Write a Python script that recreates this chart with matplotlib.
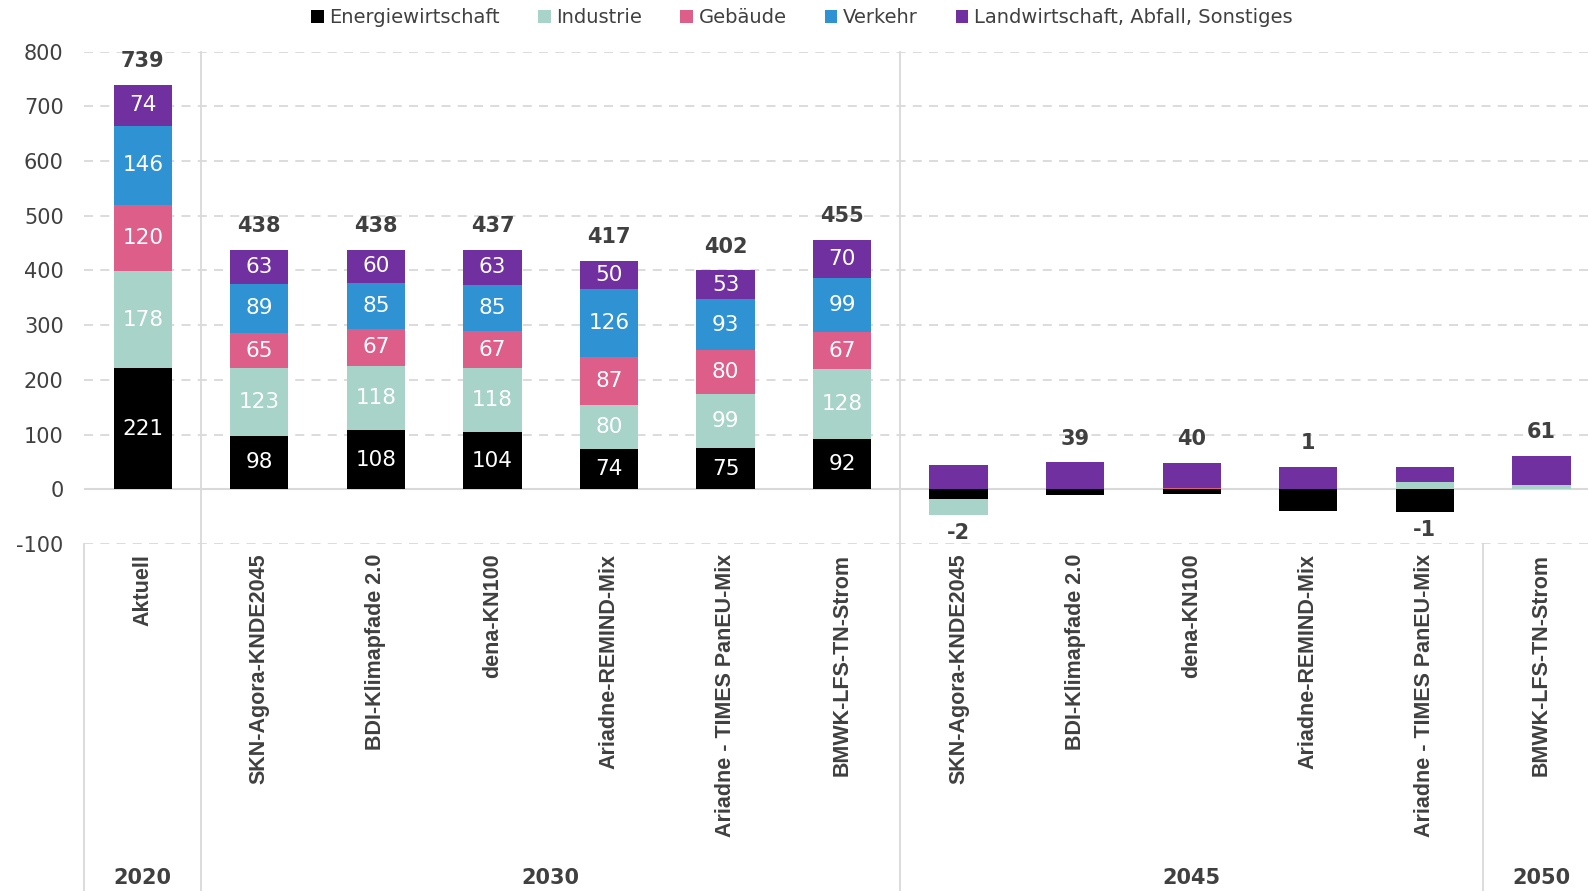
import numpy as np
import matplotlib.pyplot as plt
from matplotlib.patches import Patch
import matplotlib.transforms as mtransforms

# categories (13 bars) and group labels
scenarios = ['Aktuell',
             'SKN-Agora-KNDE2045', 'BDI-Klimapfade 2.0', 'dena-KN100',
             'Ariadne-REMIND-Mix', 'Ariadne - TIMES PanEU-Mix', 'BMWK-LFS-TN-Strom',
             'SKN-Agora-KNDE2045', 'BDI-Klimapfade 2.0', 'dena-KN100',
             'Ariadne-REMIND-Mix', 'Ariadne - TIMES PanEU-Mix',
             'BMWK-LFS-TN-Strom']
groups = ['2020', '2030', '2045', '2050']
group_sizes = [1, 6, 5, 1]

sectors = ['Energiewirtschaft', 'Industrie', 'Gebäude', 'Verkehr',
           'Landwirtschaft, Abfall, Sonstiges']
energie = [221, 98, 108, 104, 74, 75, 92, -18, -10, -8, -40, -41, 0]
industrie = [178, 123, 118, 118, 80, 99, 128, -29, 0, 1, 1, 14, 7]
gebaeude = [120, 65, 67, 67, 87, 80, 67, 0, 0, 1, 0, 0, 0]
verkehr = [146, 89, 85, 85, 126, 93, 99, 0, 0, 0, 0, 0, 0]
landwirtschaft = [74, 63, 60, 63, 50, 53, 70, 45, 49, 46, 40, 26, 54]
totals = [739, 438, 438, 437, 417, 402, 455, -2, 39, 40, 1, -1, 61]
n_labelled = 7  # segment values shown only for 2020 and 2030

colors = ['#000000', '#A8D3C9', '#DE5E8A', '#2E92D3', '#7030A0']
txt = '#404040'
num_font = 'DejaVu Sans'

fig = plt.figure(figsize=(15.88, 8.91), dpi=100)
ax = fig.add_axes([0.0532, 0.3895, 0.9468, 0.5525])

x = np.arange(len(scenarios))
series = [energie, industrie, gebaeude, verkehr, landwirtschaft]
pos_bottom = np.zeros(len(x))
neg_bottom = np.zeros(len(x))
for vals, col in zip(series, colors):
    v = np.array(vals, dtype=float)
    bottom = np.where(v >= 0, pos_bottom, neg_bottom)
    ax.bar(x, v, 0.5, bottom=bottom, color=col, edgecolor='none', zorder=3)
    for i in range(n_labelled):
        if v[i] != 0:
            ax.text(x[i], bottom[i] + v[i] / 2, f'{int(v[i])}', ha='center', va='center',
                    color='white', fontsize=15.5, family=num_font, zorder=4)
    pos_bottom = np.where(v >= 0, pos_bottom + v, pos_bottom)
    neg_bottom = np.where(v < 0, neg_bottom + v, neg_bottom)

# totals above / below stacks
for i, t in enumerate(totals):
    if t >= 0:
        ax.annotate(f'{t}', (x[i], pos_bottom[i]), xytext=(0, 10), textcoords='offset points',
                    ha='center', va='bottom', fontsize=15, fontweight='bold', color=txt,
                    family=num_font)
    else:
        ax.annotate(f'{t}', (x[i], neg_bottom[i]), xytext=(0, -6), textcoords='offset points',
                    ha='center', va='top', fontsize=15, fontweight='bold', color=txt,
                    family=num_font)

ax.set_xlim(-0.5, 12.4)
ax.set_ylim(-100, 800)
ax.set_yticks(np.arange(-100, 801, 100))
ax.set_yticklabels([str(v) for v in range(-100, 801, 100)], family=num_font, fontsize=15,
                   color=txt)
ax.tick_params(axis='y', length=0, pad=15)
ax.set_xticks([])
for s in ax.spines.values():
    s.set_visible(False)
ax.yaxis.grid(True, color='#D9D9D9', linestyle=(0, (5, 4)), linewidth=1.3, zorder=0)
ax.axhline(0, color='#D9D9D9', linewidth=1.5, zorder=1)

# category labels and group separators below the axis
trans = mtransforms.blended_transform_factory(ax.transData, ax.transAxes)
fig_bottom = -0.3895 / 0.5525
for i, name in enumerate(scenarios):
    ax.text(x[i], -0.02, name, transform=trans, rotation=90, ha='center', va='top',
            fontsize=15.5, fontweight='bold', color=txt, family='Liberation Sans')

start = 0
for g, size in zip(groups, group_sizes):
    center = start + (size - 1) / 2
    ax.text(center, fig_bottom + 0.027, g, transform=trans, ha='center', va='center',
            fontsize=15, fontweight='bold', color=txt, family=num_font)
    start += size

line_kw = dict(transform=trans, color='#D9D9D9', linewidth=1.3, clip_on=False, zorder=0)
ax.plot([-0.5, -0.5], [0, fig_bottom], **line_kw)
ax.plot([0.5, 0.5], [1, fig_bottom], **line_kw)
ax.plot([6.5, 6.5], [1, fig_bottom], **line_kw)
ax.plot([11.5, 11.5], [0, fig_bottom], **line_kw)

handles = [Patch(facecolor=c, edgecolor='none') for c in colors]
leg = fig.legend(handles, sectors, loc='center', bbox_to_anchor=(0.505, 0.980), ncol=5,
                 frameon=False, handlelength=0.65, handleheight=0.65, handletextpad=0.3,
                 columnspacing=1.95, prop={'family': num_font, 'size': 14})
for t in leg.get_texts():
    t.set_color(txt)

fig.savefig('out.png', dpi=100)
